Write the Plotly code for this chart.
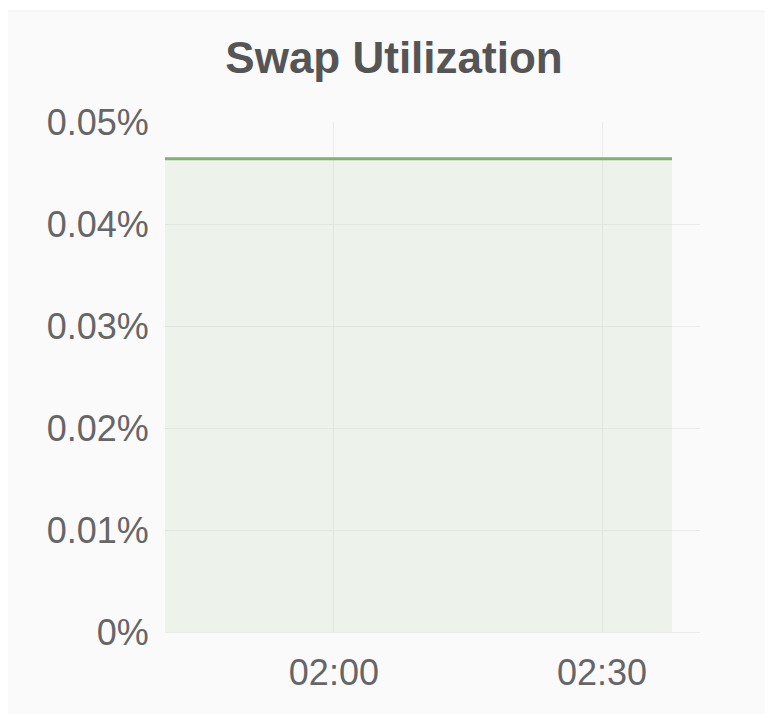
import plotly.graph_objects as go

# Data
times = ["2024-01-01 01:41:06", "2024-01-01 01:50:00", "2024-01-01 02:00:00",
         "2024-01-01 02:10:00", "2024-01-01 02:20:00", "2024-01-01 02:30:00",
         "2024-01-01 02:37:50"]
swap_pct = [0.0464, 0.0464, 0.0464, 0.0464, 0.0464, 0.0464, 0.0464]
y_tickvals = [0, 0.01, 0.02, 0.03, 0.04, 0.05]
y_ticktext = ["0%", "0.01%", "0.02%", "0.03%", "0.04%", "0.05%"]
x_range = ["2024-01-01 01:41:06", "2024-01-01 02:40:58"]
title_text = "Swap Utilization"

W, H = 773, 714
L, R, T, B = 157, 81, 114, 90
pw, ph = W - L - R, H - T - B

def px_x(px):
    return (px - L) / pw

def px_y(py):
    return (H - B - py) / ph

fig = go.Figure()
fig.add_trace(go.Scatter(
    x=times, y=swap_pct, mode="lines",
    line=dict(color="#7eb26d", width=3),
    fill="tozeroy", fillcolor="rgba(126,178,109,0.10)",
    hoverinfo="skip", showlegend=False,
))

fig.add_shape(type="rect", xref="paper", yref="paper",
              x0=px_x(-1), x1=px_x(790), y0=px_y(3), y1=px_y(730),
              fillcolor="#fafafa", line=dict(color="#eeeeee", width=1),
              layer="below")

tick_font = dict(family="Liberation Sans", size=36, color="#666666")

fig.update_layout(
    width=W, height=H,
    margin=dict(l=L, r=R, t=T, b=B, pad=0),
    paper_bgcolor="white", plot_bgcolor="rgba(0,0,0,0)",
    title=dict(text=title_text, x=386 / W, xanchor="center",
               y=1 - 50 / H, yanchor="middle", yref="container",
               font=dict(family="Liberation Sans", size=44, color="#555555", weight="bold")),
    xaxis=dict(type="date", range=x_range, tickformat="%H:%M", dtick=30 * 60 * 1000,
               tick0="2024-01-01 02:00:00",
               showgrid=True, gridcolor="#ebebeb", gridwidth=1,
               showline=True, linecolor="#ebebeb", linewidth=1,
               ticks="outside", ticklen=9, tickcolor="rgba(0,0,0,0)",
               tickfont=tick_font, zeroline=False, fixedrange=True),
    yaxis=dict(range=[0, 0.05], tickvals=y_tickvals, ticktext=y_ticktext,
               showgrid=True, gridcolor="#ebebeb", gridwidth=1,
               ticks="outside", ticklen=8, tickcolor="rgba(0,0,0,0)",
               tickfont=tick_font, zeroline=False, showline=False, fixedrange=True),
)

fig.write_html("out.html")
